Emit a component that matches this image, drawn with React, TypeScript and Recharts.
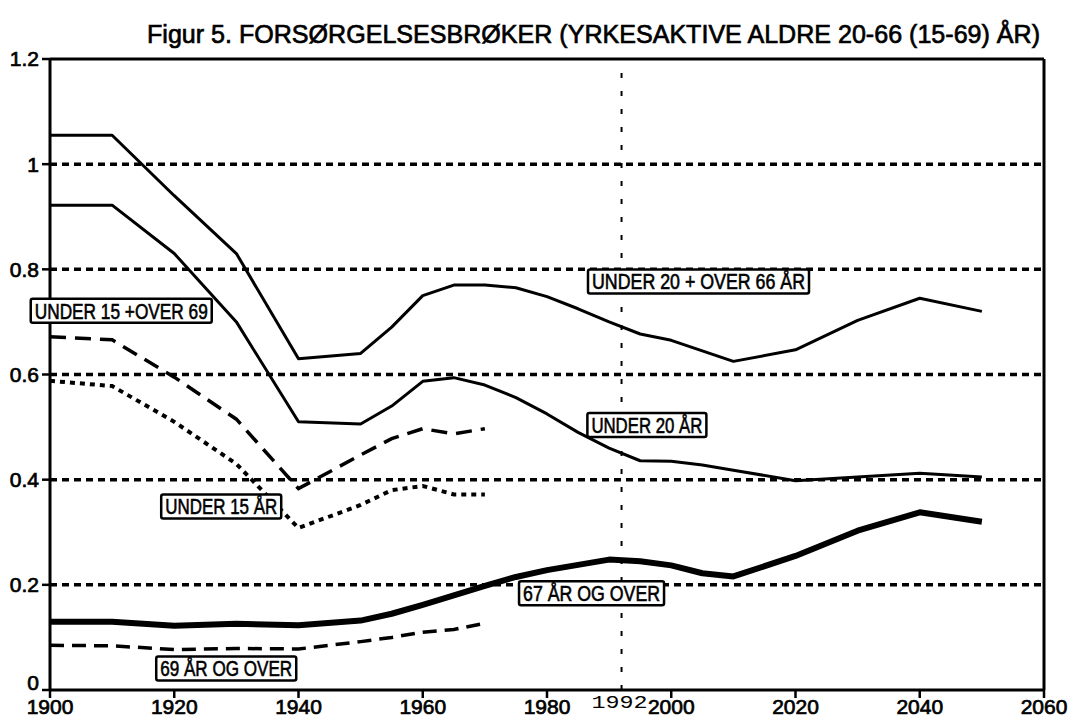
import React from 'react';
import { LineChart, Line, XAxis, YAxis, ReferenceLine, ReferenceDot } from 'recharts';

// years shared by all series (the 15/69 series stop in 1970)
const years = [1900, 1910, 1920, 1930, 1940, 1950, 1955, 1960, 1965, 1970, 1975, 1980, 1985, 1990, 1995, 2000, 2005, 2010, 2020, 2030, 2040, 2050];

const under20Over66 = [1.055, 1.055, 0.94, 0.83, 0.63, 0.64, 0.69, 0.75, 0.77, 0.77, 0.765, 0.748, 0.725, 0.7, 0.677, 0.665, 0.645, 0.625, 0.647, 0.703, 0.745, 0.72];
const under20 = [0.922, 0.922, 0.83, 0.7, 0.51, 0.506, 0.54, 0.587, 0.594, 0.58, 0.556, 0.525, 0.49, 0.46, 0.436, 0.435, 0.428, 0.418, 0.398, 0.405, 0.412, 0.405];
const under15Over69 = [0.672, 0.666, 0.595, 0.515, 0.383, 0.447, 0.478, 0.497, 0.487, 0.497, null, null, null, null, null, null, null, null, null, null, null, null];
const under15 = [0.588, 0.578, 0.51, 0.43, 0.308, 0.352, 0.38, 0.388, 0.372, 0.372, null, null, null, null, null, null, null, null, null, null, null, null];
const over67 = [0.13, 0.13, 0.122, 0.126, 0.123, 0.132, 0.145, 0.162, 0.18, 0.198, 0.215, 0.228, 0.238, 0.248, 0.245, 0.237, 0.222, 0.216, 0.255, 0.303, 0.338, 0.32];
const over69 = [0.085, 0.084, 0.077, 0.079, 0.078, 0.092, 0.1, 0.11, 0.115, 0.127, null, null, null, null, null, null, null, null, null, null, null, null];

const xTicks = [1900, 1920, 1940, 1960, 1980, 2000, 2020, 2040, 2060];
const yTicks = [0, 0.2, 0.4, 0.6, 0.8, 1, 1.2];
const gridValues = [0.2, 0.4, 0.6, 0.8, 1];
const markerYear = 1992;

const title = 'Figur 5.  FORSØRGELSESBRØKER (YRKESAKTIVE ALDRE 20-66 (15-69) ÅR)';

// boxed series labels, anchored at left edge / vertical centre
const labels = [
  { text: 'UNDER 15 +OVER 69', year: 1896.9, value: 0.721, width: 181 },
  { text: 'UNDER 15 ÅR', year: 1917.9, value: 0.349, width: 120 },
  { text: 'UNDER 20 + OVER 66 ÅR', year: 1986.6, value: 0.777, width: 221 },
  { text: 'UNDER 20 ÅR', year: 1986.5, value: 0.504, width: 119 },
  { text: '67 ÅR OG OVER', year: 1975.5, value: 0.184, width: 145 },
  { text: '69 ÅR OG OVER', year: 1917.1, value: 0.041, width: 140 },
];

const data = years.map((year, i) => ({
  year,
  a: under20Over66[i],
  b: under20[i],
  c: under15Over69[i],
  d: under15[i],
  e: over67[i],
  f: over69[i],
}));

const font = '"Liberation Sans Narrow", "Liberation Sans", Arial, sans-serif';

const LabelBox = (props: any) => {
  const { cx, cy, text, width } = props;
  return (
    <g>
      <rect x={cx} y={cy - 12} width={width} height={24} fill="#fff" stroke="#000" strokeWidth={2.5} rx={2} />
      <text
        x={cx + 4}
        y={cy + 8}
        fontSize={22}
        fontFamily={font}
        fill="#000"
        stroke="#000"
        strokeWidth={0.6}
        textLength={width - 8}
        lengthAdjust="spacingAndGlyphs"
      >
        {text}
      </text>
    </g>
  );
};

const MarkerText = (props: any) => (
  <text
    x={props.cx - 2}
    y={props.cy + 18}
    textAnchor="middle"
    fontSize={19}
    fontFamily='"Liberation Mono", monospace'
    fill="#000"
    textLength={56}
    lengthAdjust="spacingAndGlyphs"
  >
    {String(markerYear)}
  </text>
);

const tickStyle = { fill: '#000', fontSize: 21, fontFamily: font, stroke: '#000', strokeWidth: 0.7 };

// the "0" label sits a little higher so it clears the 1900 label
const YTick = (props: any) => {
  const { x, y, payload } = props;
  const v = payload.value as number;
  return (
    <text x={x} y={v === 0 ? y - 7 : y} dy="0.355em" textAnchor="end" {...tickStyle}>
      {String(parseFloat(v.toFixed(1)))}
    </text>
  );
};

export default function App() {
  return (
    <div style={{ position: 'absolute', left: 0, top: 0, width: 1075, height: 720, background: '#fff' }}>
      <div style={{ position: 'absolute', left: 0, top: 0 }}>
        <LineChart width={1075} height={720} data={data} margin={{ top: 59, right: 31, bottom: 0, left: 0 }}>
          <XAxis
            dataKey="year"
            type="number"
            domain={[1900, 2060]}
            ticks={xTicks}
            interval={0}
            height={30}
            tick={tickStyle}
            tickSize={8}
            tickMargin={1}
            axisLine={{ stroke: '#000', strokeWidth: 3 }}
            tickLine={{ stroke: '#000', strokeWidth: 2.5 }}
          />
          <YAxis
            type="number"
            domain={[0, 1.2]}
            ticks={yTicks}
            interval={0}
            width={50}
            tick={<YTick />}
            tickSize={8}
            tickMargin={3}
            axisLine={{ stroke: '#000', strokeWidth: 3 }}
            tickLine={{ stroke: '#000', strokeWidth: 2.5 }}
          />
          {gridValues.map((v) => (
            <ReferenceLine key={v} y={v} stroke="#000" strokeWidth={3.5} strokeDasharray="7 5" />
          ))}
          <ReferenceLine y={1.2} stroke="#000" strokeWidth={3} />
          <ReferenceLine x={2060} stroke="#000" strokeWidth={3} />
          <ReferenceLine x={markerYear} stroke="#000" strokeWidth={2} strokeDasharray="5 13" />
          <ReferenceDot x={markerYear} y={0} r={0} ifOverflow="visible" shape={(p: any) => <MarkerText {...p} />} />

          <Line dataKey="a" type="linear" stroke="#000" strokeWidth={3} dot={false} isAnimationActive={false} strokeLinejoin="round" />
          <Line dataKey="b" type="linear" stroke="#000" strokeWidth={3} dot={false} isAnimationActive={false} strokeLinejoin="round" />
          <Line dataKey="c" type="linear" stroke="#000" strokeWidth={3.5} strokeDasharray="16 9" dot={false} isAnimationActive={false} />
          <Line dataKey="d" type="linear" stroke="#000" strokeWidth={4} strokeDasharray="5 5" dot={false} isAnimationActive={false} />
          <Line dataKey="e" type="linear" stroke="#000" strokeWidth={6} dot={false} isAnimationActive={false} strokeLinejoin="round" />
          <Line dataKey="f" type="linear" stroke="#000" strokeWidth={3.5} strokeDasharray="14 8" dot={false} isAnimationActive={false} />

          {labels.map((l) => (
            <ReferenceDot
              key={l.text}
              x={l.year}
              y={l.value}
              r={0}
              ifOverflow="visible"
              shape={(p: any) => <LabelBox {...p} text={l.text} width={l.width} />}
            />
          ))}
        </LineChart>
      </div>
      <svg width={1075} height={56} style={{ position: 'absolute', left: 0, top: 0, pointerEvents: 'none' }}>
        <text
          x={147}
          y={43}
          fontSize={26}
          fontFamily={font}
          fill="#000"
          stroke="#000"
          strokeWidth={0.7}
          textLength={893}
          lengthAdjust="spacingAndGlyphs"
        >
          {title}
        </text>
      </svg>
    </div>
  );
}
